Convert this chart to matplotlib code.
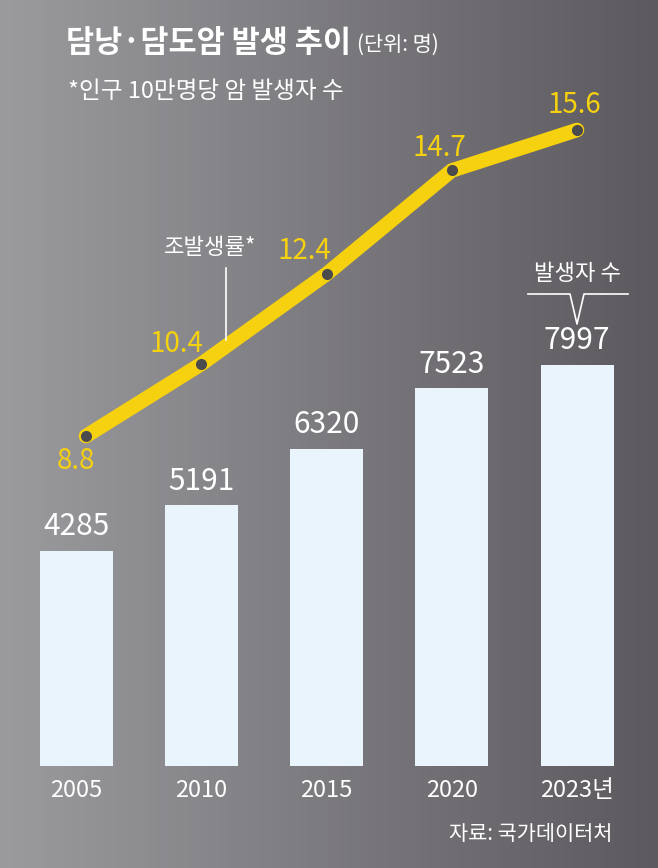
import numpy as np
import matplotlib.pyplot as plt
from matplotlib.lines import Line2D

plt.rcParams['font.family'] = ['Noto Sans CJK KR', 'DejaVu Sans']

years = ['2005', '2010', '2015', '2020', '2023년']
patients = [4285, 5191, 6320, 7523, 7997]
rates = [8.8, 10.4, 12.4, 14.7, 15.6]

W, H = 658, 868
fig = plt.figure(figsize=(W / 100, H / 100), dpi=100)

# background gradient
bg = fig.add_axes([0, 0, 1, 1])
bg.set_axis_off()
grad = np.linspace(0, 1, 256)
left = np.array([155, 155, 158]) / 255
right = np.array([92, 89, 95]) / 255
img = left[None, :] * (1 - grad[:, None]) + right[None, :] * grad[:, None]
bg.imshow(img[None, :, :], aspect='auto', extent=[0, 1, 0, 1])
bg.set_xlim(0, 1)
bg.set_ylim(0, 1)

# bars axis
ax = fig.add_axes([0, 0, 1, 1], facecolor='none')
ax.set_axis_off()
x = np.arange(len(years))
unit = 125.25
ax.set_xlim(-76 / unit, (W - 76) / unit)
scale = 0.0502
ax.set_ylim(-(H - 766) / scale, 766 / scale)
ax.bar(x, patients, width=73 / unit, color='#e9f4fc', zorder=2)
for xi, v in zip(x, patients):
    ax.text(xi, v + 170, f'{v}', ha='center', va='bottom', color='white',
            fontsize=21.5)
for xi, yr in zip(x, years):
    ax.text(xi, -480, yr, ha='center', va='center', color='white', fontsize=17)

# line axis
ax2 = fig.add_axes([0, 0, 1, 1], facecolor='none')
ax2.set_axis_off()
ax2.set_xlim(ax.get_xlim())
ax2.set_ylim(-0.8, 832 / 45)
lx = x.astype(float).copy()
lx[0] += 10 / unit
ax2.plot(lx, rates, color='#f6d10f', lw=10.5, solid_capstyle='round',
         solid_joinstyle='round', zorder=3)
ax2.plot(lx, rates, 'o', ms=8, color='#4b4a4c', mew=0, zorder=4)
offs = [(-0.08, -0.55), (-0.2, 0.45), (-0.18, 0.5), (-0.1, 0.5), (-0.02, 0.55)]
for xi, v, (dx, dy) in zip(lx, rates, offs):
    ax2.text(xi + dx, v + dy, f'{v}', ha='center', va='center', color='#f6d10f',
             fontsize=20)

# annotation: 조발생률*
fig.text(210 / W, 1 - 248 / H, '조발생률*', ha='center', va='center',
         color='white', fontsize=16)
fig.add_artist(Line2D([226 / W, 226 / W], [1 - 268 / H, 1 - 340 / H],
                      color='white', lw=1.2))

# annotation: 발생자 수
fig.text(577 / W, 1 - 274 / H, '발생자 수', ha='center', va='center',
         color='white', fontsize=16)
bx = np.array([528, 570, 577, 584, 628]) / W
by = 1 - np.array([294, 294, 324, 294, 294]) / H
fig.add_artist(Line2D(bx, by, color='white', lw=1.2))

# titles
title = fig.text(66 / W, 1 - 43 / H, '담낭·담도암 발생 추이', ha='left', va='center',
                 color='white', fontsize=22, fontweight='bold')
fig.canvas.draw()
tend = title.get_window_extent().x1
fig.text((tend + 6) / W, 1 - 45 / H, '(단위: 명)', ha='left', va='center',
         color='white', fontsize=15)
fig.text(68 / W, 1 - 91 / H, '*인구 10만명당 암 발생자 수', ha='left', va='center',
         color='white', fontsize=17)
fig.text(612 / W, 1 - 834 / H, '자료: 국가데이터처', ha='right', va='center',
         color='white', fontsize=15)

fig.savefig('out.png', dpi=100)
